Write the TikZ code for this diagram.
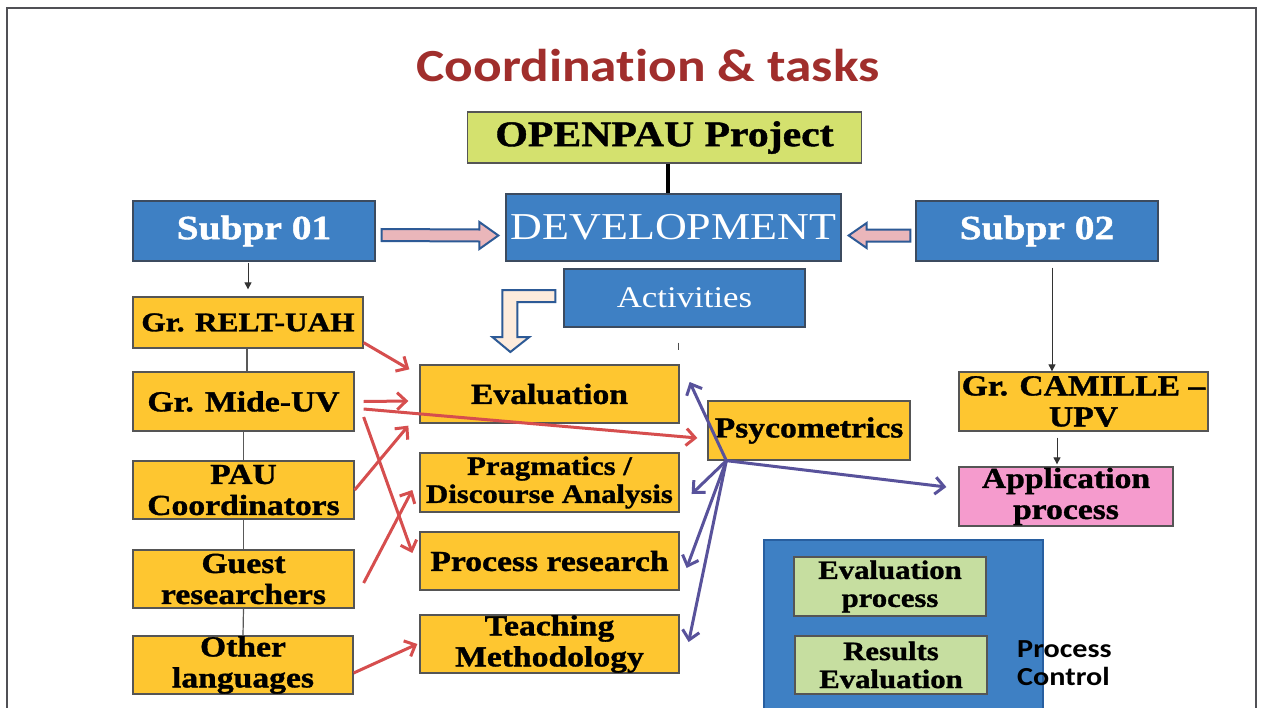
\documentclass[tikz,border=0pt]{standalone}
\usepackage{fontspec}
\setmainfont{Liberation Serif}[FakeStretch=1.16, BoldFeatures={FakeBold=1.2}]
\newfontfamily\calfont{Carlito}[FakeStretch=1.16, Ligatures=NoCommon]
\usetikzlibrary{arrows.meta,calc}
\definecolor{boxblue}{RGB}{62,128,196}
\definecolor{bordblue}{RGB}{60,75,95}
\definecolor{boxyel}{RGB}{254,198,48}
\definecolor{bordgray}{RGB}{85,85,85}
\definecolor{boxgreen}{RGB}{212,225,110}
\definecolor{boxpink}{RGB}{245,155,205}
\definecolor{boxlgreen}{RGB}{198,222,160}
\definecolor{arrred}{RGB}{214,78,78}
\definecolor{arrpurp}{RGB}{88,82,155}
\definecolor{titlered}{RGB}{160,46,44}
\definecolor{blkpink}{RGB}{234,182,186}
\definecolor{blkcream}{RGB}{253,235,220}
\definecolor{blkedge}{RGB}{45,90,150}
\definecolor{framegray}{RGB}{80,80,85}
\definecolor{pcedge}{RGB}{40,95,160}
\begin{document}
\begin{tikzpicture}[x=1pt,y=-1pt,
  base/.style={rectangle, inner sep=0pt, align=center, line width=1.3pt},
  ybox/.style={base, fill=boxyel, draw=bordgray, font=\fontsize{29}{31}\selectfont\bfseries},
  bbox/.style={base, fill=boxblue, draw=bordblue, text=white},
  gbox/.style={base, fill=boxgreen, draw=bordgray},
  pbox/.style={base, fill=boxpink, draw=bordgray, font=\fontsize{29}{31}\selectfont\bfseries},
  lgbox/.style={base, fill=boxlgreen, draw=bordgray, font=\fontsize{26.5}{28}\selectfont\bfseries},
  pcbox/.style={base, fill=boxblue, draw=pcedge, line width=2pt},
  redarr/.style={draw=arrred, line width=3pt, -{Straight Barb[length=9pt,width=17pt]}},
  purarr/.style={draw=arrpurp, line width=3pt, -{Straight Barb[length=9pt,width=17pt]}},
  thinarr/.style={draw=black!80, line width=1pt, -{Triangle[length=7pt,width=7pt]}},
  vline/.style={draw=black!65, line width=1.2pt},
  blockarr/.style={line width=2pt, draw=blkedge, line join=miter}
]
\useasboundingbox (0,0) rectangle (1261,707);
\fill[white] (0,0) rectangle (1261,707);
% frame
\draw[framegray, line width=2.5pt] (7,720) -- (7,8) -- (1256,8) -- (1256,720);

% title
\node[text=titlered, font=\calfont\fontsize{46}{48}\selectfont\bfseries, inner sep=0pt] (title) at (648,66) {Coordination \& tasks};

% top nodes
\node[gbox, minimum width=394, minimum height=51, font=\fontsize{36}{38}\selectfont\bfseries] (open) at (664.5,137.5) {OPENPAU Project};
\node[bbox, minimum width=335, minimum height=67, font=\fontsize{38}{40}\selectfont] (dev) at (673.5,227.5) {DEVELOPMENT};
\node[bbox, minimum width=242, minimum height=60, font=\fontsize{34}{36}\selectfont\bfseries] (s1) at (254,231) {Subpr 01};
\node[bbox, minimum width=242, minimum height=60, font=\fontsize{34}{36}\selectfont\bfseries] (s2) at (1037,231) {Subpr 02};
\node[bbox, minimum width=241, minimum height=58, font=\fontsize{30}{32}\selectfont] (act) at (684.5,298) {Activities};

% left column
\node[ybox, minimum width=230, minimum height=51, font=\fontsize{27}{29}\selectfont\bfseries] (relt) at (248,322.5) {Gr. RELT-UAH};
\node[ybox, minimum width=221, minimum height=59] (mide) at (243.5,401.5) {Gr. Mide-UV};
\node[ybox, minimum width=221, minimum height=58] (pau) at (243.5,490) {PAU\\Coordinators};
\node[ybox, minimum width=221, minimum height=58] (guest) at (243.5,579) {Guest\\researchers};
\node[ybox, minimum width=220, minimum height=58] (other) at (243,665) {Other\\languages};

% middle column
\node[ybox, minimum width=259, minimum height=58] (eval) at (549.5,394) {Evaluation};
\node[ybox, minimum width=259, minimum height=59, font=\fontsize{26.5}{28}\selectfont\bfseries] (prag) at (549.5,482.5) {Pragmatics /\\Discourse Analysis};
\node[ybox, minimum width=259, minimum height=58] (proc) at (549.5,561) {Process research};
\node[ybox, minimum width=259, minimum height=58] (teach) at (549.5,644) {Teaching\\Methodology};

% right part
\node[ybox, minimum width=202, minimum height=59] (psy) at (809,430.5) {Psycometrics};
\node[ybox, minimum width=249, minimum height=59] (cam) at (1083.5,401.5) {Gr. CAMILLE --\\UPV};
\node[pbox, minimum width=214, minimum height=59] (app) at (1066,496.5) {Application\\process};

% process control
\node[pcbox, minimum width=279, minimum height=190] (pc) at (903.5,635) {};
\node[lgbox, minimum width=192, minimum height=59] (evp) at (890,586.5) {Evaluation\\process};
\node[lgbox, minimum width=192, minimum height=58] (rese) at (891,665) {Results\\Evaluation};
\node[anchor=west, align=left, inner sep=0pt, font=\calfont\fontsize{26}{28}\selectfont\bfseries] (pctext) at (1017,663) {Process\\Control};

% connectors
\draw[line width=4pt] ([xshift=3.5pt]open.south) -- ([xshift=-5.5pt]dev.north);
\draw[thinarr, shorten <=1pt, shorten >=7pt] (s1.south -| relt.north) -- (relt.north);
\draw[thinarr, shorten <=6pt] ([xshift=15pt]s2.south) -- ([xshift=-31.5pt]cam.north);
\draw[thinarr, shorten <=6pt, shorten >=2pt] ([xshift=-26.5pt]cam.south) -- ([xshift=-9pt]app.north);
\draw[vline] ([xshift=-1pt]relt.south) -- ([xshift=3.5pt]mide.north);
\draw[vline] (mide.south) -- (pau.north);
\draw[vline] (pau.south) -- (guest.north);
\draw[vline] (guest.south) -- (other.north);
\draw[black!70, line width=1pt] ($(act.south)+(-6,15)$) coordinate (tk) -- ($(tk)+(0,7)$);

% block arrows
\coordinate (a1) at ($(s1.east)+(6,4)$);
\coordinate (b1) at ($(dev.west)+(-7,8)$);
\filldraw[blockarr, fill=blkpink] ($(a1)+(0,-6)$) -- ($(b1)+(-19,-6)$) -- ($(b1)+(-19,-13.5)$) -- (b1) -- ($(b1)+(-19,13.5)$) -- ($(b1)+(-19,6)$) -- ($(a1)+(0,6)$) -- cycle;
\coordinate (a2) at ($(s2.west)+(-5,4.5)$);
\coordinate (b2) at ($(dev.east)+(7,8)$);
\filldraw[blockarr, fill=blkpink] ($(a2)+(0,-6)$) -- ($(b2)+(18,-6)$) -- ($(b2)+(18,-12.5)$) -- (b2) -- ($(b2)+(18,12.5)$) -- ($(b2)+(18,6)$) -- ($(a2)+(0,6)$) -- cycle;
\coordinate (c) at ($(act.west)+(-8,-8)$);
\filldraw[blockarr, fill=blkcream] (c) -- ($(c)+(-53,0)$) -- ($(c)+(-53,47)$) -- ($(c)+(-63,47)$) -- ($(c)+(-45,62)$) -- ($(c)+(-26,47)$) -- ($(c)+(-38,47)$) -- ($(c)+(-38,12)$) -- ($(c)+(0,12)$) -- cycle;

% red arrows
\draw[redarr] ([yshift=6pt]relt.south east) -- ($(eval.north west)+(-10,5)$);
\draw[redarr] ($(mide.east)+(9,0)$) -- ($(eval.west)+(-11,7)$);
\draw[redarr] ($(mide.east)+(9,7.5)$) -- ($(psy.west)+(-10,7.5)$);
\draw[redarr] ($(mide.east)+(9,15.5)$) -- ($(proc.west)+(-7,-8)$);
\draw[redarr] (pau.east) -- ($(eval.south west)+(-11,2)$);
\draw[redarr] ($(guest.east)+(9,4)$) -- ($(prag.west)+(-7,7.5)$);
\draw[redarr] ($(other.east)+(0,8)$) -- ($(teach.west)+(-2,0)$);

% purple arrows
\coordinate (hub) at ($(psy.south west)+(19,0)$);
\draw[purarr] (hub) -- ($(eval.east)+(10,-12)$);
\draw[purarr] (hub) -- ($(prag.east)+(12,11.5)$);
\draw[purarr] (hub) -- ($(proc.east)+(7,7)$);
\draw[purarr] (hub) -- ($(teach.east)+(9,-2)$);
\draw[purarr] (hub) -- ($(app.west)+(-12,-9.5)$);
\end{tikzpicture}
\end{document}
